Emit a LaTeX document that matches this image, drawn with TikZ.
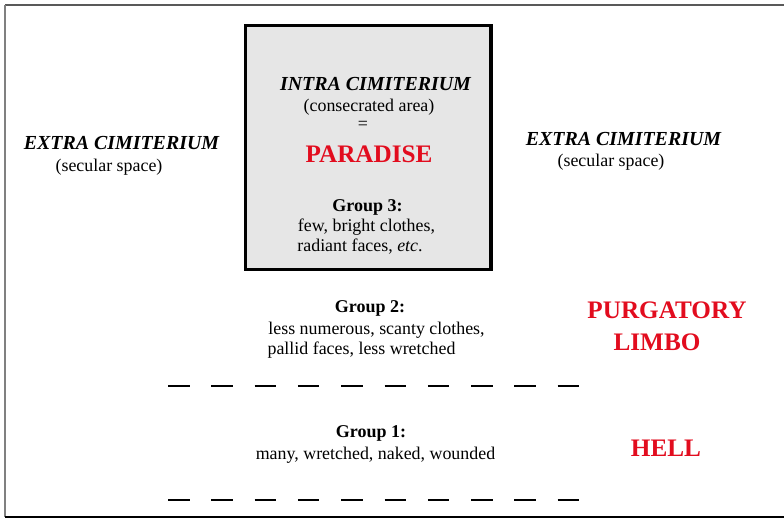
\documentclass[tikz,border=0pt]{standalone}
\usepackage{fontspec}
\setmainfont{Liberation Serif}
\definecolor{hellred}{RGB}{226,12,30}
\definecolor{boxgray}{RGB}{230,230,230}
\tikzset{
  txt/.style={anchor=base, inner sep=0pt, font=\fontsize{17.9}{21}\selectfont},
  head/.style={anchor=base, inner sep=0pt, font=\fontsize{19.9}{23}\selectfont\bfseries\itshape},
  grp/.style={anchor=base, inner sep=0pt, font=\fontsize{18}{21}\selectfont\bfseries},
  realm/.style={anchor=base, inner sep=0pt, text=hellred, font=\fontsize{25.2}{29}\selectfont\bfseries},
  divider/.style={line width=2pt, dash pattern=on 21.5pt off 21.8pt},
}
\begin{document}
\begin{tikzpicture}[x=1pt,y=-1pt]
\useasboundingbox (0,0) rectangle (784,518);
% outer frame (open on the right)
\coordinate (ftr) at (784,5);
\coordinate (ftl) at (5,5);
\coordinate (fbl) at (5,517);
\coordinate (fbr) at (784,517);
\draw[line width=1.6pt, black!65] (ftr) -- (ftl);
\draw[line width=1.6pt, black!50] (ftl) -- (fbl);
\draw[line width=1.6pt, black] (fbl) -- (fbr);
% consecrated area box
\node (box) [draw=black, fill=boxgray, line width=3.5pt, minimum width=245.5pt, minimum height=244pt, inner sep=0pt] at (368.25,147.5) {};
% texts inside the box
\node (intra) [head] at (375.5,91) {INTRA CIMITERIUM};
\node (cons) [txt] at (369,112) {(consecrated area)};
\node (eq) [txt] at (363,130) {=};
\node (paradise) [realm] at (369,163) {PARADISE};
\node (g3) [grp] at (367.5,212) {Group 3:};
\node (g3a) [txt] at (366.5,232) {few, bright clothes,};
\node (g3b) [txt] at (360,252) {radiant faces, \textit{etc}.};
% extra cimiterium
\node (exl) [head] at (121.5,150) {EXTRA CIMITERIUM};
\node (secl) [txt] at (109,172) {(secular space)};
\node (exr) [head] at (623.5,146) {EXTRA CIMITERIUM};
\node (secr) [txt] at (611,167) {(secular space)};
% group 2
\node (g2) [grp] at (370,313) {Group 2:};
\node (g2a) [txt] at (376.5,335) {less numerous, scanty clothes,};
\node (g2b) [txt] at (361.5,355) {pallid faces, less wretched};
\node (purg) [realm] at (667,319) {PURGATORY};
\node (limbo) [realm] at (657,350) {LIMBO};
% dividers
\coordinate (d1a) at (168,386);
\coordinate (d1b) at (580,386);
\draw[divider] (d1a) -- (d1b);
% group 1
\node (g1) [grp] at (371,437) {Group 1:};
\node (g1a) [txt] at (375.5,459) {many, wretched, naked, wounded};
\node (hell) [realm] at (666,456) {HELL};
\coordinate (d2a) at (168,500);
\coordinate (d2b) at (580,500);
\draw[divider] (d2a) -- (d2b);
\end{tikzpicture}
\end{document}
